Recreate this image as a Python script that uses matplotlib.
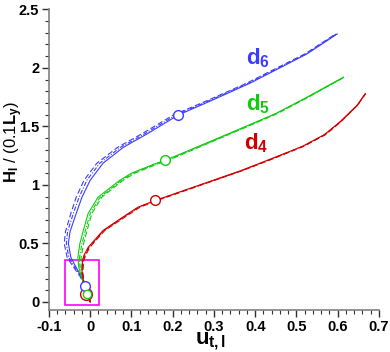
import matplotlib
matplotlib.use("Agg")
import matplotlib.pyplot as plt
from matplotlib.patches import Rectangle
from matplotlib.ticker import MultipleLocator

plt.rcParams['font.family'] = ['Liberation Sans', 'DejaVu Sans']
plt.rcParams['font.weight'] = 'bold'
plt.rcParams['mathtext.fontset'] = 'custom'
plt.rcParams['mathtext.rm'] = 'Liberation Sans:bold'
plt.rcParams['mathtext.it'] = 'Liberation Sans:bold'
plt.rcParams['mathtext.bf'] = 'Liberation Sans:bold'

# d6 (blue)
d6_y = [0, 0.08, 0.14, 0.22, 0.30, 0.38, 0.5, 0.6, 0.756, 0.895, 1.04, 1.185, 1.32, 1.44, 1.596, 1.73, 1.87, 2.0, 2.12, 2.29]
d6_x_solid = [0, -0.008, -0.013, -0.022, -0.035, -0.047, -0.053, -0.049, -0.034, -0.020, 0.000, 0.031, 0.080, 0.140, 0.213, 0.30, 0.388, 0.46, 0.526, 0.599]
d6_x_dash = [0, -0.008, -0.014, -0.025, -0.041, -0.056, -0.063, -0.060, -0.047, -0.034, -0.015, 0.016, 0.066, 0.127, 0.201, 0.290, 0.380, 0.453, 0.521, 0.595]
d6_x_dashdot = [0, -0.008, -0.013, -0.023, -0.038, -0.052, -0.058, -0.055, -0.041, -0.027, -0.008, 0.023, 0.073, 0.134, 0.207, 0.295, 0.384, 0.457, 0.524, 0.597]

# d5 (green)
d5_y = [0, 0.07, 0.15, 0.22, 0.30, 0.38, 0.5, 0.62, 0.756, 0.895, 1.04, 1.10, 1.18, 1.21, 1.34, 1.48, 1.61, 1.75, 1.92]
d5_x_solid = [0, -0.008, -0.015, -0.022, -0.028, -0.030, -0.025, -0.016, -0.005, 0.019, 0.072, 0.10, 0.157, 0.182, 0.27, 0.364, 0.45, 0.526, 0.614]
d5_x_dash = [0, -0.007, -0.013, -0.019, -0.022, -0.022, -0.016, -0.007, 0.004, 0.028, 0.080, 0.108, 0.164, 0.189, 0.276, 0.369, 0.454, 0.529, 0.616]
d5_x_dashdot = [0, -0.007, -0.014, -0.020, -0.025, -0.026, -0.020, -0.011, 0.000, 0.024, 0.076, 0.104, 0.161, 0.186, 0.273, 0.367, 0.452, 0.528, 0.615]

# d4 (red)
d4_y = [0, 0.07, 0.15, 0.25, 0.35, 0.40, 0.467, 0.61, 0.72, 0.81, 0.87, 1.0, 1.12, 1.23, 1.33, 1.43, 1.54, 1.68, 1.78]
d4_x_solid = [0, -0.008, -0.015, -0.020, -0.019, -0.015, -0.005, 0.031, 0.077, 0.116, 0.160, 0.266, 0.364, 0.444, 0.515, 0.568, 0.606, 0.647, 0.667]
d4_x_dash = [0, -0.008, -0.014, -0.018, -0.016, -0.011, -0.001, 0.035, 0.082, 0.121, 0.165, 0.270, 0.368, 0.448, 0.518, 0.571, 0.608, 0.648, 0.668]
d4_x_dashdot = [0, -0.008, -0.015, -0.019, -0.018, -0.013, -0.003, 0.033, 0.079, 0.118, 0.162, 0.268, 0.366, 0.446, 0.516, 0.569, 0.607, 0.648, 0.667]

# circle markers
circ_x = [0.213, 0.182, 0.157, -0.013, -0.009, -0.010]
circ_y = [1.596, 1.21, 0.87, 0.14, 0.07, 0.07]
circ_size = [7, 7, 7, 7, 6, 8.5]

blue = '#3c3cff'
green = '#10cc10'
red = '#d00000'
circ_col = [blue, green, red, blue, green, red]

fig = plt.figure(figsize=(3.9, 3.52), dpi=100)
ax = fig.add_axes([0.1256, 0.119, 0.846, 0.8545])

families = [
    (d6_y, d6_x_solid, d6_x_dash, d6_x_dashdot, blue),
    (d5_y, d5_x_solid, d5_x_dash, d5_x_dashdot, green),
    (d4_y, d4_x_solid, d4_x_dash, d4_x_dashdot, red),
]
for y, xs, xd, xdd, c in families:
    ax.plot(xs, y, color=c, lw=0.8, ls='-')
    ax.plot(xd, y, color=c, lw=0.8, ls=(0, (5, 2.5)))
    ax.plot(xdd, y, color=c, lw=0.8, ls=(0, (4, 1.5, 1, 1.5)))

# markers drawn from the red one first so smaller ones sit on top
for i in [5, 3, 4, 0, 1, 2]:
    ax.plot(circ_x[i], circ_y[i], 'o', ms=circ_size[i], mfc='white', mec=circ_col[i], mew=1.0)

ax.add_patch(Rectangle((-0.061, -0.028), 0.082, 0.384, fill=False, ec='#ff00ff', lw=1.2))

ax.text(0.378, 2.03, r'$d_6$', color=blue, fontsize=16, va='baseline')
ax.text(0.378, 1.64, r'$d_5$', color=green, fontsize=16, va='baseline')
ax.text(0.373, 1.30, r'$d_4$', color=red, fontsize=16, va='baseline')

ax.set_xlim(-0.1, 0.7)
ax.set_ylim(-0.07, 2.5)
ax.xaxis.set_minor_locator(MultipleLocator(0.02))
ax.yaxis.set_minor_locator(MultipleLocator(0.1))
ax.set_xticks([-0.1, 0, 0.1, 0.2, 0.3, 0.4, 0.5, 0.6, 0.7])
ax.set_xticklabels(['-0.1', '0', '0.1', '0.2', '0.3', '0.4', '0.5', '0.6', '0.7'])
ax.set_yticks([0, 0.5, 1, 1.5, 2, 2.5])
ax.set_yticklabels(['0', '0.5', '1', '1.5', '2', '2.5'])

for s in ['top', 'right']:
    ax.spines[s].set_visible(False)
for s in ['left', 'bottom']:
    ax.spines[s].set_color('#808080')
    ax.spines[s].set_linewidth(1.2)

ax.tick_params(which='major', direction='out', length=5, width=1.0, color='#303030',
               labelsize=10.5, pad=2)
ax.tick_params(which='minor', direction='out', length=3, width=0.8, color='#303030')
for lab in ax.get_xticklabels() + ax.get_yticklabels():
    lab.set_fontweight('bold')

ax.set_ylabel(r'$H_l$ / (0.1$L_y$)', fontsize=12, va='center')
ax.yaxis.set_label_coords(-0.106, 0.56)
ax.set_xlabel(r'$u_{t,l}$', fontsize=16, va='center')
ax.xaxis.set_label_coords(0.49, -0.102)

fig.savefig('out.png', dpi=100)
